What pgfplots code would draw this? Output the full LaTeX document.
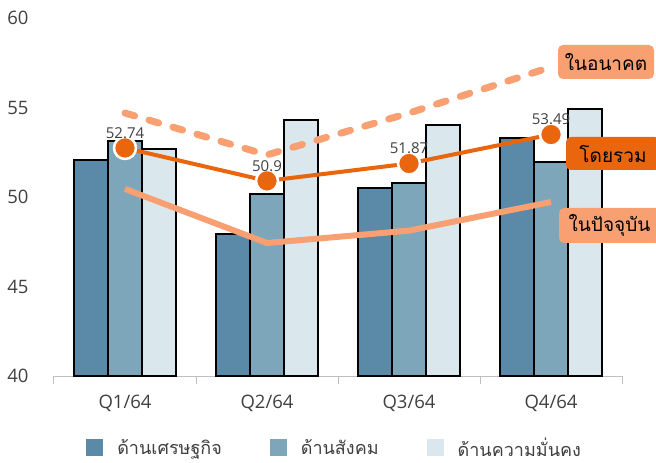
\documentclass[border=0pt]{standalone}
\usepackage{fontspec}
\setmainfont{Open Sans}
\newfontfamily\thaifont[Script=Thai]{Loma}
\usepackage{pgfplots}
\pgfplotsset{compat=1.18}
\definecolor{cA}{RGB}{91,138,168}
\definecolor{cB}{RGB}{126,166,186}
\definecolor{cC}{RGB}{218,231,237}
\definecolor{oDark}{RGB}{234,102,14}
\definecolor{oLight}{RGB}{249,160,114}
\definecolor{axgray}{RGB}{191,191,191}
\definecolor{txt}{RGB}{64,64,64}
\begin{document}
\begin{tikzpicture}
\path[use as bounding box] (-54bp,-87bp) rectangle (602bp,376bp);
\begin{axis}[
 at={(0,0)}, anchor=south west,
 scale only axis, width=568bp, height=358bp,
 xmin=-0.5, xmax=3.5, ymin=40, ymax=60,
 ytick={40,45,50,55,60},
 xtick={0,1,2,3}, xticklabels={Q1/64,Q2/64,Q3/64,Q4/64},
 axis x line*=bottom, axis y line*=left,
 x axis line style={draw=axgray, line width=1bp},
 y axis line style={draw=none},
 ytick style={draw=none},
 xtick style={draw=axgray, line width=1bp},
 major tick length=0pt,
 extra x ticks={-0.5,0.5,1.5,2.5,3.5},
 extra x tick labels={},
 extra x tick style={major tick length=8bp, tick align=outside},
 tick label style={font=\fontsize{18.5bp}{20bp}\selectfont, text=txt},
 /pgf/number format/assume math mode=true,
 yticklabel style={xshift=-22bp},
 xticklabel style={yshift=-16bp},
 legend style={at={(axis description cs:0.494,-0.201)}, anchor=center, draw=none,
   legend columns=3, font=\thaifont\fontsize{18bp}{20bp}\selectfont, text=txt,
   /tikz/every odd column/.append style={column sep=12bp},
   /tikz/every even column/.append style={column sep=46bp}},
 legend image code/.code={\fill[#1,draw=none] (0bp,-8.5bp) rectangle (17bp,8.5bp);},
]
\addplot[ybar, bar width=34bp, bar shift=-34bp, fill=cA, draw=black, line width=1.5bp] coordinates {(0,52.07)(1,47.93)(2,50.50)(3,53.30)};
\addplot[ybar, bar width=34bp, bar shift=0bp, fill=cB, draw=black, line width=1.5bp] coordinates {(0,53.13)(1,50.17)(2,50.78)(3,51.96)};
\addplot[ybar, bar width=34bp, bar shift=34bp, fill=cC, draw=black, line width=1.5bp] coordinates {(0,52.68)(1,54.30)(2,54.02)(3,54.92)};
\legend{ด้านเศรษฐกิจ,ด้านสังคม,ด้านความมั่นคง}
\addplot[oLight, line width=7bp, dash pattern=on 10bp off 15bp, line cap=round, forget plot] coordinates {(0,54.69)(1,52.35)(2,54.69)(3,57.26)};
\addplot[oLight, line width=6bp, forget plot] coordinates {(0,50.45)(1,47.43)(2,48.12)(3,49.72)};
\addplot[oDark, line width=4bp, mark=*, mark size=11bp, mark options={fill=oDark, draw=white, line width=2.5bp},
  point meta=explicit symbolic, nodes near coords,
  every node near coord/.append style={font=\fontsize{15bp}{17bp}\selectfont, text=txt, anchor=south, yshift=5bp},
  forget plot] coordinates {(0,52.74)[52.74] (1,50.9)[50.9] (2,51.87)[51.87] (3,53.49)[53.49]};
\end{axis}
\node[fill=oLight, rounded corners=5bp, minimum width=96bp, minimum height=34bp, inner sep=0pt,
  font=\thaifont\fontsize{19bp}{21bp}\selectfont] at (552bp,314bp) {ในอนาคต};
\node[fill=oDark, rounded corners=5bp, minimum width=94bp, minimum height=33bp, inner sep=0pt,
  font=\thaifont\fontsize{19bp}{21bp}\selectfont] at (559bp,222.5bp) {โดยรวม};
\node[fill=oLight, rounded corners=5bp, minimum width=101bp, minimum height=35bp, inner sep=0pt,
  font=\thaifont\fontsize{19bp}{21bp}\selectfont] at (555.5bp,150.5bp) {ในปัจจุบัน};
\end{tikzpicture}
\end{document}
